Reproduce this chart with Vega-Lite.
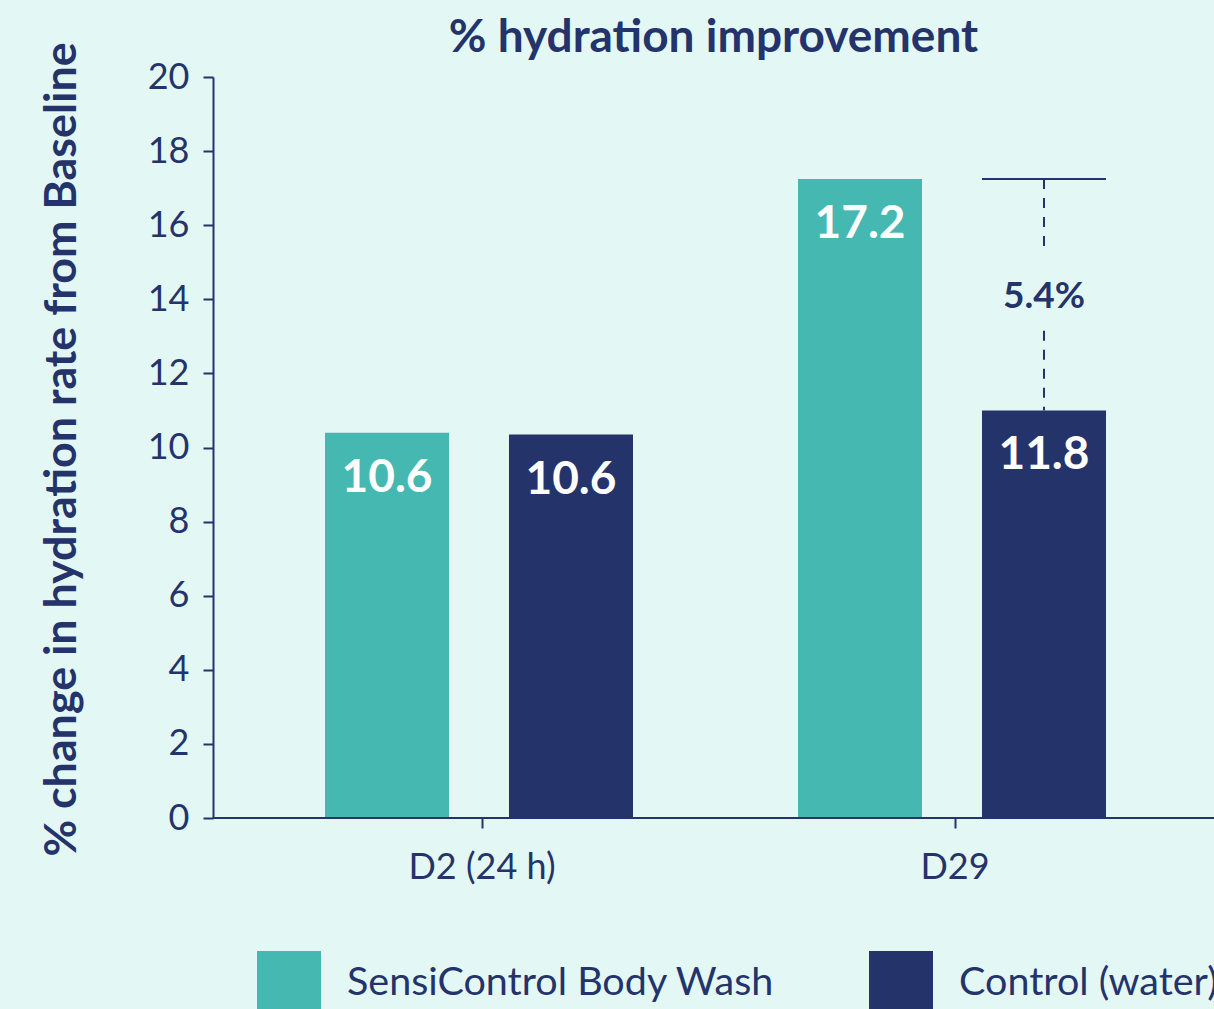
{
  "$schema": "https://vega.github.io/schema/vega-lite/v6.json",
  "width": 1001,
  "height": 741,
  "autosize": "none",
  "padding": {"left": 213, "top": 77, "right": 0, "bottom": 191},
  "background": "#e3f8f4",
  "config": {
    "view": {"stroke": null},
    "font": "Lato",
    "axis": {"grid": false}
  },
  "title": {
    "text": "% hydration improvement",
    "fontSize": 46,
    "fontWeight": "bold",
    "font": "Lato",
    "color": "#25336b",
    "anchor": "middle",
    "frame": "group",
    "baseline": "alphabetic",
    "offset": 10,
    "dy": 66
  },
  "datasets": {
    "bars": [
      {"day": "D2 (24 h)", "group": "SensiControl Body Wash", "value": 10.4, "label": "10.6"},
      {"day": "D2 (24 h)", "group": "Control (water)", "value": 10.35, "label": "10.6"},
      {"day": "D29", "group": "SensiControl Body Wash", "value": 17.25, "label": "17.2"},
      {"day": "D29", "group": "Control (water)", "value": 11.0, "label": "11.8"}
    ],
    "gapTop": [
      {"day": "D29", "group": "Control (water)", "value": 17.25}
    ],
    "gapSegs": [
      {"day": "D29", "group": "Control (water)", "from": 17.25, "to": 15.3},
      {"day": "D29", "group": "Control (water)", "from": 13.15, "to": 11.0}
    ],
    "gapLabel": [
      {"day": "D29", "group": "Control (water)", "value": 14.06, "text": "5.4%"}
    ]
  },
  "layer": [
    {
      "data": {"name": "bars"},
      "mark": {"type": "bar"},
      "encoding": {
        "x": {
          "field": "day", "type": "nominal", "sort": null,
          "scale": {"range": [32.5, 978.5], "paddingInner": 0, "paddingOuter": 0},
          "axis": {
            "title": null, "domain": false, "labelAngle": 0,
            "labelFontSize": 36, "labelColor": "#25336b", "labelFont": "Lato",
            "tickColor": "#25336b", "tickWidth": 2, "tickSize": 10,
            "labelPadding": 22
          }
        },
        "xOffset": {
          "field": "group", "type": "nominal",
          "sort": ["SensiControl Body Wash", "Control (water)"],
          "scale": {"range": [79.5, 387.5], "paddingInner": 0.326, "paddingOuter": 0}
        },
        "y": {
          "field": "value", "type": "quantitative",
          "scale": {"domain": [0, 20], "nice": false},
          "axis": {
            "values": [0, 2, 4, 6, 8, 10, 12, 14, 16, 18, 20],
            "title": "% change in hydration rate from Baseline",
            "titleFontSize": 44.8, "titleFontWeight": "bold", "titleColor": "#25336b", "titleFont": "Lato",
            "titleX": -151, "titleY": 372, "titleAngle": -90, "titleAlign": "center", "titleBaseline": "middle",
            "titleLimit": 1000,
            "labelFontSize": 36, "labelColor": "#25336b", "labelFont": "Lato", "labelPadding": 14,
            "domainColor": "#25336b", "domainWidth": 2,
            "tickColor": "#25336b", "tickWidth": 2, "tickSize": 10
          }
        },
        "color": {
          "field": "group", "type": "nominal",
          "sort": ["SensiControl Body Wash", "Control (water)"],
          "scale": {"domain": ["SensiControl Body Wash", "Control (water)"], "range": ["#45b8b1", "#25336b"]},
          "legend": {
            "title": null, "orient": "none", "legendX": 44, "legendY": 874,
            "direction": "horizontal", "columns": 2, "padding": 0,
            "symbolType": "square", "symbolSize": 4096, "symbolStrokeWidth": 0, "symbolOpacity": 1,
            "labelFontSize": 39.5, "labelFont": "Lato", "labelColor": "#25336b",
            "labelOffset": 26, "labelLimit": 800, "columnPadding": 94
          }
        }
      }
    },
    {
      "data": {"name": "bars"},
      "mark": {"type": "text", "color": "white", "fontSize": 46, "fontWeight": "bold", "font": "Lato", "baseline": "middle", "dy": 45},
      "encoding": {
        "x": {"field": "day", "type": "nominal", "sort": null},
        "xOffset": {"field": "group", "type": "nominal", "sort": ["SensiControl Body Wash", "Control (water)"]},
        "y": {"field": "value", "type": "quantitative"},
        "text": {"field": "label"}
      }
    },
    {
      "data": {"name": "gapTop"},
      "mark": {"type": "tick", "color": "#25336b", "size": 124, "thickness": 2, "orient": "horizontal", "opacity": 1},
      "encoding": {
        "x": {"field": "day", "type": "nominal", "sort": null},
        "xOffset": {"field": "group", "type": "nominal", "sort": ["SensiControl Body Wash", "Control (water)"]},
        "y": {"field": "value", "type": "quantitative"}
      }
    },
    {
      "data": {"name": "gapSegs"},
      "mark": {"type": "rule", "color": "#25336b", "strokeWidth": 2, "strokeDash": [10, 9]},
      "encoding": {
        "x": {"field": "day", "type": "nominal", "sort": null},
        "xOffset": {"field": "group", "type": "nominal", "sort": ["SensiControl Body Wash", "Control (water)"]},
        "y": {"field": "from", "type": "quantitative"},
        "y2": {"field": "to"}
      }
    },
    {
      "data": {"name": "gapLabel"},
      "mark": {"type": "text", "color": "#25336b", "fontSize": 37, "fontWeight": "bold", "font": "Lato", "baseline": "middle"},
      "encoding": {
        "x": {"field": "day", "type": "nominal", "sort": null},
        "xOffset": {"field": "group", "type": "nominal", "sort": ["SensiControl Body Wash", "Control (water)"]},
        "y": {"field": "value", "type": "quantitative"},
        "text": {"field": "text"}
      }
    },
    {
      "data": {"values": [{}]},
      "mark": {"type": "rule", "color": "#25336b", "strokeWidth": 2},
      "encoding": {"y": {"datum": 0}}
    }
  ]
}
